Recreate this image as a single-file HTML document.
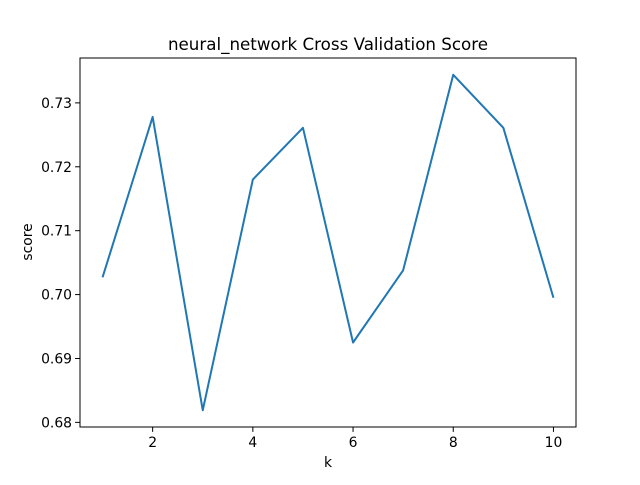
<!DOCTYPE html>
<html><head><meta charset="utf-8"><style>body{margin:0;background:#fff}svg{font-family:"DejaVu Sans","Liberation Sans",sans-serif}</style></head>
<body>
<svg id="chart" width="640" height="480">
<rect x="0" y="0" width="640" height="480" fill="#fff"/>
<text x="328" y="50" text-anchor="middle" font-size="16.7">neural_network Cross Validation Score</text>
<text x="328" y="467" text-anchor="middle" font-size="13.9">k</text>
<text transform="translate(32,242) rotate(-90)" text-anchor="middle" font-size="13.9">score</text>
<g id="ticks"></g>
<polyline id="line" fill="none" stroke="#1f77b4" stroke-width="2" stroke-linejoin="round"/>
<rect x="80" y="58" width="496" height="369" fill="none" stroke="#000" stroke-width="1"/>
</svg>
<script>
const ks = [1,2,3,4,5,6,7,8,9,10];
const scores = [0.7027,0.7278,0.6819,0.7180,0.7261,0.6925,0.7038,0.7344,0.7261,0.6995];
const xTicks = [2,4,6,8,10];
const yTicks = [0.68,0.69,0.70,0.71,0.72,0.73];
const L=80,R=576,T=58,B=427;
const xmin=0.55,xmax=10.45;
const ymin=Math.min(...scores),ymax=Math.max(...scores),pad=(ymax-ymin)*0.05;
const y0=ymin-pad,y1=ymax+pad;
const sx=v=>L+(v-xmin)/(xmax-xmin)*(R-L);
const sy=v=>B-(v-y0)/(y1-y0)*(B-T);
const ns="http://www.w3.org/2000/svg";
const g=document.getElementById('ticks');
function mk(tag,attrs){const e=document.createElementNS(ns,tag);for(const k in attrs)e.setAttribute(k,attrs[k]);g.appendChild(e);return e;}
xTicks.forEach(v=>{
  const l=mk('line',{x1:sx(v),x2:sx(v),y1:B,y2:B+4.9,stroke:'#000','stroke-width':1});
  
  
  const t=mk('text',{x:sx(v),y:B+20,'text-anchor':'middle','font-size':13.9});
  t.textContent=v;
  
  
});
yTicks.forEach(v=>{
  const l=mk('line',{x1:L-4.9,x2:L,y1:sy(v),y2:sy(v),stroke:'#000','stroke-width':1});
  
  
  const t=mk('text',{x:L-8,y:sy(v)+5,'text-anchor':'end','font-size':13.9});
  t.textContent=v.toFixed(2);
  
  
});
document.getElementById('line').setAttribute('points',ks.map((k,i)=>sx(k)+','+sy(scores[i])).join(' '));
</script>
</body></html>
